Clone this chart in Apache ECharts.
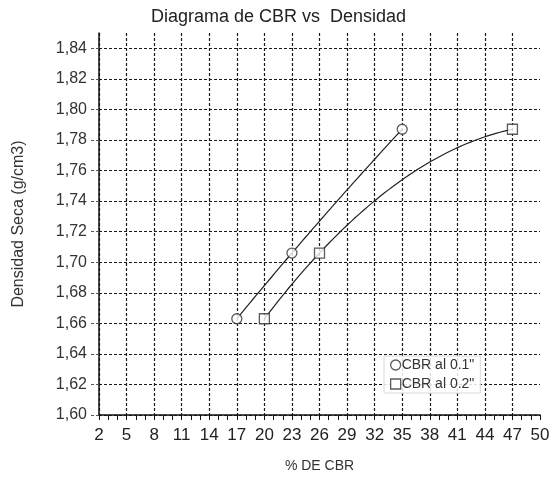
<!DOCTYPE html>
<html>
<head>
<meta charset="utf-8">
<script src="https://cdn.jsdelivr.net/npm/echarts@6/dist/echarts.min.js"></script>
<style>
  html, body { margin: 0; padding: 0; background: #fff; }
  #chart { width: 557px; height: 481px; }
</style>
</head>
<body>
<div id="chart"></div>
<script>
// datos
var cbr01 = [17, 23, 35];
var cbr02 = [20, 26, 47];
var densidad = [1.663, 1.706, 1.787];
var xTicks = [2, 5, 8, 11, 14, 17, 20, 23, 26, 29, 32, 35, 38, 41, 44, 47, 50];
var seriesNames = ['CBR al 0.1"', 'CBR al 0.2"'];

// el eje x arranca en 2 y sube de 3 en 3: se desplaza para que min sea multiplo
var xOff = xTicks[0];
function pares(xs) {
  return xs.map(function (x, i) { return [x - xOff, densidad[i]]; });
}

// linea de tendencia polinomica (grado 2) por minimos cuadrados
function ajuste2(xs, ys) {
  var s = [0, 0, 0, 0, 0], t = [0, 0, 0];
  xs.forEach(function (x, i) {
    for (var k = 0; k < 5; k++) s[k] += Math.pow(x, k);
    for (var k2 = 0; k2 < 3; k2++) t[k2] += ys[i] * Math.pow(x, k2);
  });
  var m = [[s[0], s[1], s[2], t[0]], [s[1], s[2], s[3], t[1]], [s[2], s[3], s[4], t[2]]];
  for (var c = 0; c < 3; c++) {
    for (var r = c + 1; r < 3; r++) {
      var f = m[r][c] / m[c][c];
      for (var j = c; j < 4; j++) m[r][j] -= f * m[c][j];
    }
  }
  var a = [0, 0, 0];
  for (var r2 = 2; r2 >= 0; r2--) {
    var v = m[r2][3];
    for (var j2 = r2 + 1; j2 < 3; j2++) v -= m[r2][j2] * a[j2];
    a[r2] = v / m[r2][r2];
  }
  return a;
}

function curva(xs) {
  var a = ajuste2(xs, densidad);
  return function (params, api) {
    var x0 = xs[0], x1 = xs[xs.length - 1];
    var pts = [];
    for (var k = 0; k <= 60; k++) {
      var x = x0 + (x1 - x0) * k / 60;
      pts.push(api.coord([x - xOff, a[0] + a[1] * x + a[2] * x * x]));
    }
    return {
      type: 'polyline',
      shape: { points: pts },
      style: { stroke: '#222', lineWidth: 1.2, fill: null },
      silent: true
    };
  };
}

var myChart = echarts.init(document.getElementById('chart'));

var font = 'Liberation Sans, Arial, sans-serif';
var marca = { color: '#fff', borderColor: '#333', borderWidth: 1.3 };
var gridLine = { show: true, showMaxLine: false, lineStyle: { color: '#1a1a1a', type: [3, 2], width: 1.2 } };

var option = {
  animation: false,
  backgroundColor: '#fff',
  textStyle: { fontFamily: font },
  title: {
    text: 'Diagrama de CBR vs  Densidad',
    left: 'center',
    top: 3,
    textStyle: { fontSize: 18, fontWeight: 'normal', color: '#222', fontFamily: font }
  },
  legend: {
    data: [
      { name: seriesNames[0], icon: 'circle', itemStyle: marca },
      { name: seriesNames[1], icon: 'rect', itemStyle: marca }
    ],
    orient: 'vertical',
    left: 384,
    top: 356,
    itemWidth: 10,
    itemHeight: 10,
    itemGap: 5,
    padding: [2, 6],
    backgroundColor: 'rgba(255,255,255,0.85)',
    borderColor: '#d8d8d8',
    borderWidth: 1,
    textStyle: { fontSize: 14, color: '#333', padding: [0, 0, 0, -4] }
  },
  grid: { left: 99, right: 17, top: 33, bottom: 66 },
  xAxis: {
    type: 'value',
    min: 0,
    max: xTicks[xTicks.length - 1] - xOff,
    interval: 3,
    name: '% DE CBR',
    nameLocation: 'middle',
    nameGap: 44,
    nameTextStyle: { fontSize: 14, color: '#333' },
    axisLine: { show: true, lineStyle: { color: '#111', width: 1.5 } },
    axisTick: { show: true, length: 5, lineStyle: { color: '#111' } },
    minorTick: { show: true, splitNumber: 3, length: 5, lineStyle: { color: '#111' } },
    axisLabel: {
      fontSize: 17, color: '#222', margin: 12,
      formatter: function (v) { return String(v + xOff); }
    },
    splitLine: gridLine
  },
  yAxis: {
    type: 'value',
    min: 1.60,
    max: 1.85,
    interval: 0.02,
    name: 'Densidad Seca (g/cm3)',
    nameLocation: 'middle',
    nameGap: 72,
    nameTextStyle: { fontSize: 16, color: '#333' },
    axisLine: { show: true, lineStyle: { color: '#111', width: 1.5 } },
    axisTick: { show: true, length: 8, lineStyle: { color: '#555', type: [3, 2] } },
    axisLabel: {
      fontSize: 16, color: '#333', margin: 12, showMaxLabel: false,
      formatter: function (v) { return v.toFixed(2).replace('.', ','); }
    },
    splitLine: gridLine
  },
  series: [
    {
      name: seriesNames[0],
      type: 'scatter',
      data: pares(cbr01),
      symbol: 'circle',
      symbolSize: 10,
      z: 3,
      itemStyle: marca
    },
    {
      name: seriesNames[1],
      type: 'scatter',
      data: pares(cbr02),
      symbol: 'rect',
      symbolSize: 10,
      z: 3,
      itemStyle: marca
    },
    {
      type: 'custom',
      data: [[cbr01[0] - xOff, densidad[0]]],
      renderItem: curva(cbr01),
      z: 2
    },
    {
      type: 'custom',
      data: [[cbr02[0] - xOff, densidad[0]]],
      renderItem: curva(cbr02),
      z: 2
    }
  ]
};

myChart.setOption(option);
</script>
</body>
</html>
